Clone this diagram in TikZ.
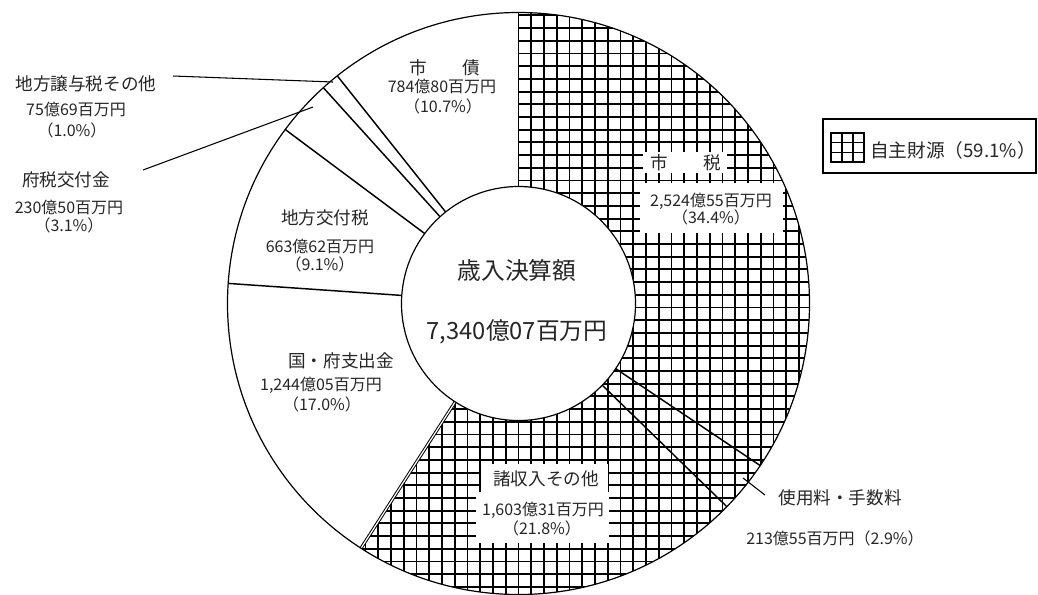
\documentclass[tikz,border=0pt]{standalone}
\usepackage{fontspec}
\setmainfont{Noto Sans CJK JP}
\usetikzlibrary{calc}
\tikzset{
  lbl/.style={font=\fontsize{13.2}{15}\selectfont, inner sep=0pt, text=black!85},
  val/.style={font=\fontsize{12}{14}\selectfont, inner sep=0pt, text=black!85},
  ttl/.style={font=\fontsize{17.8}{20}\selectfont, inner sep=0pt, text=black!85},
  wbox/.style={fill=white, draw=none},
  rad/.style={line width=1.1pt},
  ring/.style={line width=0.9pt},
  lead/.style={line width=0.8pt},
  gridln/.style={line width=1.45pt, black},
}
\begin{document}
\begin{tikzpicture}[x=0.75pt,y=0.75pt]
\useasboundingbox (0,0) rectangle (1038,-594);
\fill[white] (0,0) rectangle (1038,-594);
\coordinate (C) at (518.5,-303.5);
\def\Rout{291}
\def\Rin{117}
% hatched (own revenue) region
\begin{scope}
  \clip (C) ++(90:\Rout) arc[start angle=90,end angle=-122.76,radius=\Rout]
        -- ($(C)+(-122.76:\Rin)$) arc[start angle=-122.76,end angle=90,radius=\Rin] -- cycle;
  \foreach \i in {-25,...,25} \draw[gridln] ({518.5+12.75*\i},0) -- ({518.5+12.75*\i},-594);
  \foreach \j in {-25,...,30} \draw[gridln] (0,{-256.7-12.7*\j}) -- (1038,{-256.7-12.7*\j});
\end{scope}
% sector boundaries
\foreach \a in {90,-33.84,-44.28,176.04,143.28,132.12,128.52}
  \draw[rad] ($(C)+(\a:\Rin)$) -- ($(C)+(\a:\Rout)$);
\draw[line width=0.75pt, double, double distance=0.9pt] ($(C)+(-122.76:\Rin)$) -- ($(C)+(-122.76:\Rout)$);
% rings
\draw[ring] (C) circle[radius=\Rout];
\draw[ring, fill=white] (C) circle[radius=\Rin];
% white label boxes on hatched area
\path[wbox] (643,-152) rectangle (727,-173);
\path[wbox] (640,-183) rectangle (783,-233);
\path[wbox] (481,-464) rectangle (608,-492);
\path[wbox] (476,-492) rectangle (609,-543);
% centre
\node[ttl] (ctitle) at (517,-270) {歳入決算額};
\node[ttl] (ctotal) at (517,-332) {7,340億07百万円};
% 市債
\node[lbl] (sh-l) at (445,-68) {市　　債};
\node[val] (sh-v) at (442,-86) {784億80百万円};
\node[val] (sh-p) at (443,-106) {（10.7\%）};
% 市税
\node[lbl] (zei-l) at (686,-163) {市　　税};
\node[val] (zei-v) at (711,-201.5) {2,524億55百万円};
\node[val] (zei-p) at (711,-217) {（34.4\%）};
% 諸収入その他
\node[lbl] (sho-l) at (546,-479) {諸収入その他};
\node[val] (sho-v) at (543,-510) {1,603億31百万円};
\node[val] (sho-p) at (542,-528) {（21.8\%）};
% 地方交付税
\node[lbl] (kof-l) at (325,-217.5) {地方交付税};
\node[val] (kof-v) at (320,-246) {663億62百万円};
\node[val] (kof-p) at (320,-264) {（9.1\%）};
% 国・府支出金
\node[lbl] (kuni-l) at (341,-361) {国・府支出金};
\node[val] (kuni-v) at (321,-385) {1,244億05百万円};
\node[val] (kuni-p) at (322,-404) {（17.0\%）};
% 地方譲与税その他
\node[lbl] (jyo-l) at (86,-84) {地方譲与税その他};
\node[val] (jyo-v) at (76,-109) {75億69百万円};
\node[val] (jyo-p) at (72,-130) {（1.0\%）};
% 府税交付金
\node[lbl] (fu-l) at (66,-180) {府税交付金};
\node[val] (fu-v) at (69,-207) {230億50百万円};
\node[val] (fu-p) at (69,-225) {（3.1\%）};
% 使用料・手数料
\node[lbl] (shi-l) at (840,-498) {使用料・手数料};
\node[val] (shi-v) at (835,-538) {213億55百万円（2.9\%）};
% leader lines
\coordinate (jy1) at (173,-76);
\coordinate (jy2) at (333,-82);
\draw[lead] (jy1) -- (jy2);
\coordinate (fz1) at (143,-170);
\coordinate (fz2) at (313,-107);
\draw[lead] (fz1) -- (fz2);
\coordinate (sy1) at (743,-478);
\coordinate (sy2) at (765,-495);
\draw[lead] (sy1) -- (sy2);
% legend
\draw[ring] (823,-119) rectangle (1036,-173);
\draw[line width=1.1pt] (831,-133) rectangle (864,-162);
\draw[line width=1.1pt] (842,-133) -- (842,-162) (853,-133) -- (853,-162)
      (831,-142.7) -- (864,-142.7) (831,-152.3) -- (864,-152.3);
\node[lbl, font=\fontsize{14}{16}\selectfont, anchor=west] (leg) at (870,-150) {自主財源（59.1\%）};
\end{tikzpicture}
\end{document}
